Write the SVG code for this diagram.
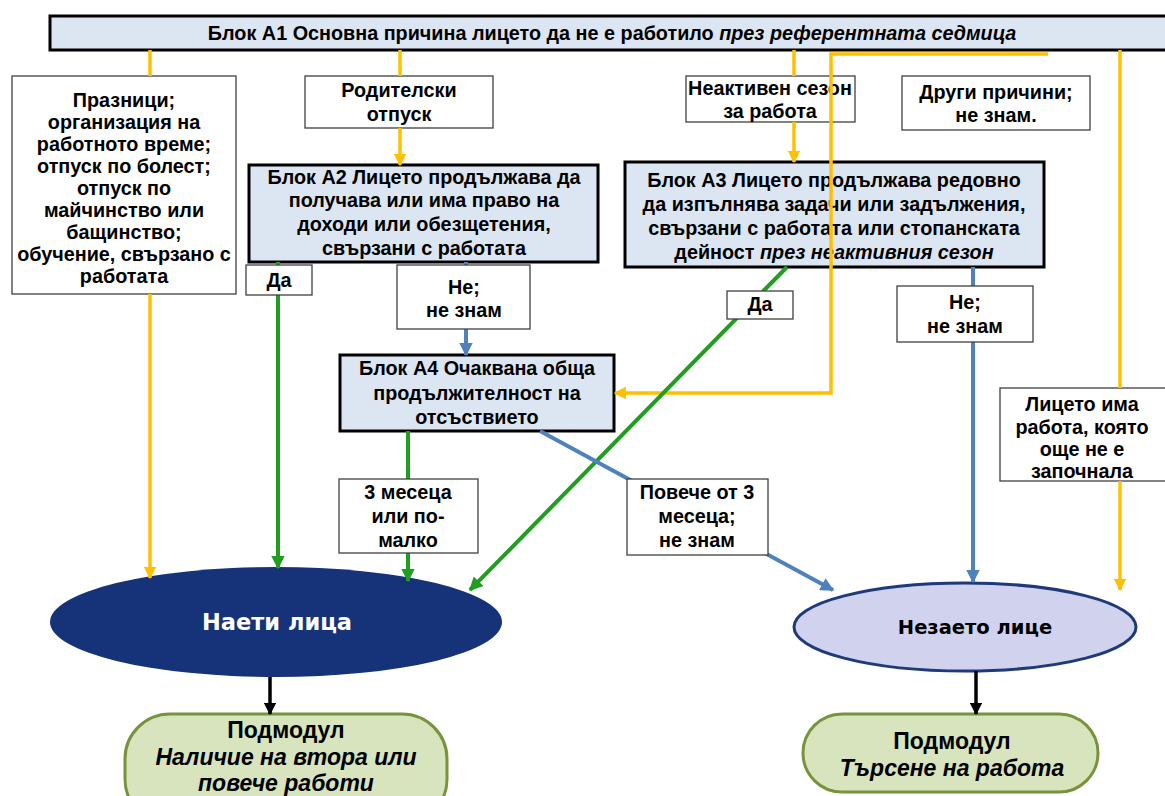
<svg xmlns="http://www.w3.org/2000/svg" width="1165" height="796" viewBox="0 0 1165 796">
<defs>
<style>
.t{font-family:"Liberation Sans",Arial,sans-serif;font-weight:bold;font-size:19.8px;fill:#000;text-anchor:middle}
.p{font-size:23px}
.i{font-style:italic}
.box{fill:#fff;stroke:#404040;stroke-width:1.3}
.blk{fill:#dce6f2;stroke:#000;stroke-width:3}
.y{fill:none;stroke:#ffc000;stroke-width:3.5}
.g{fill:none;stroke:#1f9e1f;stroke-width:4}
.b{fill:none;stroke:#4f81bd;stroke-width:4}
.k{fill:none;stroke:#000;stroke-width:3.5}
.pill{fill:#d7e4bd;stroke:#77933c;stroke-width:3}
.e{font-family:"DejaVu Sans",Verdana,sans-serif;font-weight:bold;text-anchor:middle}
</style>
<marker id="my" viewBox="0 0 10 10" refX="9" refY="5" markerWidth="3.6" markerHeight="3.6" orient="auto"><path d="M0,0L10,5L0,10z" fill="#ffc000"/></marker>
<marker id="mg" viewBox="0 0 10 10" refX="9" refY="5" markerWidth="3.4" markerHeight="3.4" orient="auto"><path d="M0,0L10,5L0,10z" fill="#1f9e1f"/></marker>
<marker id="mb" viewBox="0 0 10 10" refX="9" refY="5" markerWidth="3.4" markerHeight="3.4" orient="auto"><path d="M0,0L10,5L0,10z" fill="#4f81bd"/></marker>
<marker id="mk" viewBox="0 0 10 10" refX="9" refY="5" markerWidth="3.6" markerHeight="3.6" orient="auto"><path d="M0,0L10,5L0,10z" fill="#000"/></marker>
</defs>

<g id="nodes">
<g id="a1"><rect class="blk" x="50" y="16" width="1125" height="34"/>
<text class="t" x="612" y="40">Блок А1 Основна причина лицето да не е работило <tspan class="i">през референтната седмица</tspan></text></g>

<g id="praznici"><rect class="box" x="12" y="76" width="224" height="218"/>
<text class="t" x="124"><tspan x="124" y="107">Празници;</tspan><tspan x="124" y="129">организация на</tspan><tspan x="124" y="151">работното време;</tspan><tspan x="124" y="173">отпуск по болест;</tspan><tspan x="124" y="195">отпуск по</tspan><tspan x="124" y="217">майчинство или</tspan><tspan x="124" y="239">бащинство;</tspan><tspan x="124" y="261">обучение, свързано с</tspan><tspan x="124" y="283">работата</tspan></text></g>

<g id="roditelski"><rect class="box" x="305" y="76" width="188" height="52"/>
<text class="t"><tspan x="399" y="97">Родителски</tspan><tspan x="399" y="121">отпуск</tspan></text></g>

<g id="neaktiven"><rect class="box" x="686" y="76" width="169" height="46"/>
<text class="t"><tspan x="770" y="95">Неактивен сезон</tspan><tspan x="770" y="118">за работа</tspan></text></g>

<g id="drugi"><rect class="box" x="902" y="76" width="188" height="54"/>
<text class="t"><tspan x="996" y="99">Други причини;</tspan><tspan x="996" y="122">не знам.</tspan></text></g>

<g id="a2"><rect class="blk" x="249" y="165" width="349" height="97"/>
<text class="t"><tspan x="424" y="184">Блок А2 Лицето продължава да</tspan><tspan x="424" y="207">получава или има право на</tspan><tspan x="424" y="231">доходи или обезщетения,</tspan><tspan x="424" y="255">свързани с работата</tspan></text></g>

<g id="a3"><rect class="blk" x="625" y="162" width="419" height="105"/>
<text class="t"><tspan x="834" y="187">Блок А3 Лицето продължава редовно</tspan><tspan x="834" y="211">да изпълнява задачи или задължения,</tspan><tspan x="834" y="235">свързани с работата или стопанската</tspan><tspan x="834" y="259">дейност <tspan class="i">през неактивния сезон</tspan></tspan></text></g>

<g id="a4"><rect class="blk" x="340" y="355" width="274" height="76"/>
<text class="t"><tspan x="477" y="375">Блок А4 Очаквана обща</tspan><tspan x="477" y="400">продължителност на</tspan><tspan x="477" y="424">отсъствието</tspan></text></g>

<g id="litseto"><rect class="box" x="1000" y="388" width="170" height="93"/>
<text class="t"><tspan x="1082" y="411">Лицето има</tspan><tspan x="1082" y="434">работа, която</tspan><tspan x="1082" y="456">още не е</tspan><tspan x="1082" y="478">започнала</tspan></text></g>

<g id="naeti"><ellipse cx="276" cy="622" rx="226" ry="55" fill="#163279"/>
<text class="e" x="277" y="630" font-size="22.5" fill="#fff">Наети лица</text></g>

<g id="nezaeto"><ellipse cx="965" cy="627" rx="171" ry="44" fill="#d0d2ee" stroke="#1f3a7a" stroke-width="3"/>
<text class="e" x="975" y="634" font-size="19.5" fill="#000">Незаето лице</text></g>

<g id="podmodul1"><rect class="pill" x="125" y="714" width="322" height="110" rx="45"/>
<text class="t p"><tspan x="286" y="738">Подмодул</tspan><tspan x="286" y="765" class="i">Наличие на втора или</tspan><tspan x="286" y="791" class="i">повече работи</tspan></text></g>

<g id="podmodul2"><rect class="pill" x="803" y="714" width="295" height="78" rx="39"/>
<text class="t p"><tspan x="952" y="749">Подмодул</tspan><tspan x="952" y="776" class="i">Търсене на работа</tspan></text></g>
</g>

<g id="connectors">
<path class="y" d="M150,50V76"/>
<path class="y" d="M150,294V578" marker-end="url(#my)"/>
<path class="y" d="M400,50V76"/>
<path class="y" d="M400,128V165" marker-end="url(#my)"/>
<path class="y" d="M794,50V76"/>
<path class="y" d="M794,122V162" marker-end="url(#my)"/>
<path class="y" d="M1120,50V388"/>
<path class="y" d="M1120,481V590" marker-end="url(#my)"/>
<path class="y" d="M1048,54H831V393H615" marker-end="url(#my)"/>
<path class="g" d="M278,262V568" marker-end="url(#mg)"/>
<path class="g" d="M408,431V581" marker-end="url(#mg)"/>
<path class="g" d="M787,267L470,590" marker-end="url(#mg)"/>
<path class="b" d="M466,262V355" marker-end="url(#mb)"/>
<path class="b" d="M973,267V582" marker-end="url(#mb)"/>
<path class="b" d="M540,431L833,590" marker-end="url(#mb)"/>
<path class="k" d="M270,677V714" marker-end="url(#mk)"/>
<path class="k" d="M976,671V714" marker-end="url(#mk)"/>
</g>

<g id="labels">
<g id="l-da1"><rect class="box" x="246" y="265" width="66" height="30"/><text class="t" x="279" y="287">Да</text></g>
<g id="l-ne1"><rect class="box" x="397" y="265" width="133" height="64"/><text class="t"><tspan x="464" y="294">Не;</tspan><tspan x="464" y="317">не знам</tspan></text></g>
<g id="l-da2"><rect class="box" x="727" y="291" width="66" height="28"/><text class="t" x="760" y="311">Да</text></g>
<g id="l-ne2"><rect class="box" x="897" y="286" width="136" height="56"/><text class="t"><tspan x="965" y="309">Не;</tspan><tspan x="965" y="333">не знам</tspan></text></g>
<g id="l-3m"><rect class="box" x="339" y="479" width="139" height="74"/><text class="t"><tspan x="408" y="499">3 месеца</tspan><tspan x="408" y="523">или по-</tspan><tspan x="408" y="547">малко</tspan></text></g>
<g id="l-pov"><rect class="box" x="627" y="479" width="141" height="76"/><text class="t"><tspan x="697" y="499">Повече от 3</tspan><tspan x="697" y="523">месеца;</tspan><tspan x="697" y="547">не знам</tspan></text></g>
</g>
</svg>
